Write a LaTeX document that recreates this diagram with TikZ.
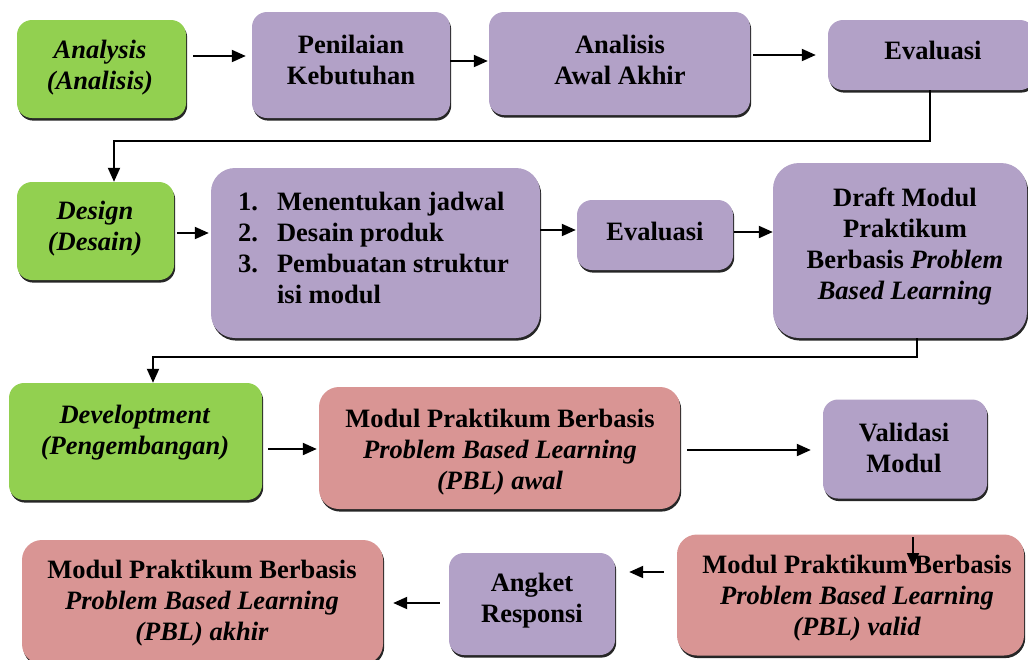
\documentclass[tikz,border=0pt]{standalone}
\usepackage{fontspec}
\setmainfont{Liberation Serif}
\usetikzlibrary{arrows.meta,shadows}
\definecolor{gr}{HTML}{92D050}
\definecolor{pu}{HTML}{B2A1C7}
\definecolor{pk}{HTML}{D99594}
\tikzset{
  box/.style={rounded corners=15pt, inner sep=0pt, draw=none,
    general shadow={fill=black!85, shadow xshift=1.2pt, shadow yshift=-2.6pt}},
  gbox/.style={box, fill=gr},
  pbox/.style={box, fill=pu},
  rbox/.style={box, fill=pk},
  txt/.style={font=\fontsize{26.5}{31}\selectfont\bfseries, align=center, inner sep=0pt},
  arr/.style={line width=2pt, -{Triangle[length=14pt,width=12pt]}},
  conn/.style={line width=2pt}
}
\begin{document}
\begin{tikzpicture}[x=1pt,y=-1pt]
\useasboundingbox (0,0) rectangle (1028,659);
\clip (0,0) rectangle (1028,659);
% boxes
\node[gbox, minimum width=169pt, minimum height=98pt] (A1) at (101.5,69) {};
\node[pbox, minimum width=198pt, minimum height=106pt] (A2) at (351,65) {};
\node[pbox, minimum width=261pt, minimum height=103pt] (A3) at (619.5,63.5) {};
\node[pbox, minimum width=207pt, minimum height=70pt] (A4) at (931.5,55) {};
\node[gbox, minimum width=157pt, minimum height=98pt] (D1) at (95.5,231) {};
\node[pbox, rounded corners=24pt, minimum width=329pt, minimum height=170pt] (D2) at (375.5,253) {};
\node[pbox, minimum width=156pt, minimum height=70pt] (D3) at (655,235) {};
\node[pbox, rounded corners=26pt, minimum width=254pt, minimum height=175pt] (D4) at (900,250.5) {};
\node[gbox, minimum width=253pt, minimum height=117pt] (V1) at (135.5,441.5) {};
\node[rbox, rounded corners=20pt, minimum width=361pt, minimum height=122pt] (V2) at (499.5,448) {};
\node[pbox, minimum width=164pt, minimum height=99pt] (V3) at (905,449) {};
\node[rbox, rounded corners=20pt, minimum width=347pt, minimum height=121pt] (E1) at (850.5,595) {};
\node[pbox, minimum width=166pt, minimum height=102pt] (E2) at (532,604) {};
\node[rbox, rounded corners=20pt, minimum width=361pt, minimum height=124pt] (E3) at (202.5,602) {};
% texts
\node[txt] (tA1) at (100,67.5) {\textit{Analysis}\\\textit{(Analisis)}};
\node[txt] (tA2) at (351,60) {Penilaian\\Kebutuhan};
\node[txt] (tA3) at (620,60) {Analisis\\Awal Akhir};
\node[txt] (tA4) at (933,50) {Evaluasi};
\node[txt] (tD1) at (95,229) {\textit{Design}\\\textit{(Desain)}};
\node[txt, anchor=west] (tD2) at (238,250.5) {\begin{tabular}{@{}l@{\hspace{19pt}}l@{}}1.&Menentukan jadwal\\2.&Desain produk\\3.&Pembuatan struktur\\&isi modul\end{tabular}};
\node[txt] (tD3) at (655,231) {Evaluasi};
\node[txt] (tD4) at (905,246) {Draft Modul\\Praktikum\\Berbasis \textit{Problem}\\\textit{Based Learning}};
\node[txt] (tV1) at (135,433) {\textit{Developtment}\\\textit{(Pengembangan)}};
\node[txt] (tV2) at (500,452) {Modul Praktikum Berbasis\\\textit{Problem Based Learning}\\\textit{(PBL) awal}};
\node[txt] (tV3) at (904,447.5) {Validasi\\Modul};
\node[txt] (tE1) at (857,598) {Modul Praktikum Berbasis\\\textit{Problem Based Learning}\\\textit{(PBL) valid}};
\node[txt] (tE2) at (532,600.5) {Angket\\Responsi};
\node[txt] (tE3) at (202,603.5) {Modul Praktikum Berbasis\\\textit{Problem Based Learning}\\\textit{(PBL) akhir}};
% arrows row 1
\draw[arr, shorten <=7pt, shorten >=6pt] (A1.east |- 0,56) -- (A2.west |- 0,56);
\draw[arr, shorten >=1pt] (A2.east |- 0,61) -- (A3.west |- 0,61);
\draw[arr, shorten <=3pt, shorten >=12pt] (A3.east |- 0,55) -- (A4.west |- 0,55);
\draw[arr] (A4.south -| 930,0) -- (930,141) -| (D1.north -| 114,0);
% row 2
\draw[arr, shorten <=3pt, shorten >=2pt] (D1.east |- 0,233) -- (D2.west |- 0,233);
\draw[arr, shorten >=1pt] (D2.east |- 0,230) -- (D3.west |- 0,230);
\draw[arr, shorten <=1pt] (D3.east |- 0,232) -- (D4.west |- 0,232);
\draw[arr] (D4.south -| 917,0) -- (917,357) -| (V1.north -| 153,0);
% row 3
\draw[arr, shorten <=6pt, shorten >=2pt] (V1.east |- 0,449) -- (V2.west |- 0,449);
\draw[arr, shorten <=7pt, shorten >=12pt] (V2.east |- 0,450) -- (V3.west |- 0,450);
% row 4
\coordinate (d1) at (913,537);
\coordinate (d2) at (913,567);
\draw[arr] (d1) -- (d2);
\draw[arr, shorten <=13pt, shorten >=14pt] (E1.west |- 0,572) -- (E2.east |- 0,572);
\draw[arr, shorten <=9pt, shorten >=10pt] (E2.west |- 0,603) -- (E3.east |- 0,603);
\end{tikzpicture}
\end{document}
